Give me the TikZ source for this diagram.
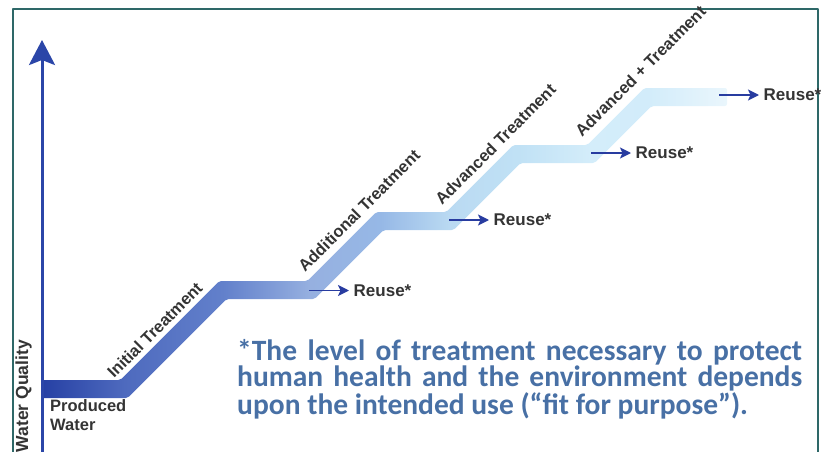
\documentclass[tikz,border=0pt]{standalone}
\usepackage{fontspec}
\setmainfont{Liberation Sans}
\newfontfamily\notefont{Carlito}
\usetikzlibrary{arrows.meta, positioning}
\usepackage{xcolor}
\definecolor{framegreen}{RGB}{46,104,104}
\definecolor{axisblue}{RGB}{43,70,168}
\definecolor{arrowblue}{RGB}{40,60,160}
\definecolor{labelgray}{RGB}{52,52,52}
\definecolor{noteblue}{RGB}{72,112,165}
\definecolor{stairA}{RGB}{38,64,164}
\definecolor{stairB}{RGB}{78,106,190}
\definecolor{stairC}{RGB}{98,128,203}
\definecolor{stairD}{RGB}{150,176,224}
\definecolor{stairE}{RGB}{150,184,230}
\definecolor{stairF}{RGB}{186,218,242}
\definecolor{stairG}{RGB}{192,225,245}
\definecolor{stairH}{RGB}{212,237,250}
\definecolor{stairI}{RGB}{210,236,250}
\definecolor{stairJ}{RGB}{234,246,252}
\pgfdeclarehorizontalshading{stairshade}{100bp}{color(0bp)=(stairA); color(25bp)=(stairA);
  color(31bp)=(stairB); color(38.2bp)=(stairC); color(44.6bp)=(stairD); color(49.7bp)=(stairE);
  color(54.8bp)=(stairF); color(59.7bp)=(stairG); color(65.1bp)=(stairH); color(69.2bp)=(stairI);
  color(75bp)=(stairJ); color(100bp)=(stairJ)}

\begin{document}
\begin{tikzpicture}[
                line join=round,
                steplabel/.style={rotate=45, anchor=base west, inner sep=0pt, text=labelgray, font=\fontsize{16.5}{19}\selectfont\bfseries},
                reusenode/.style={inner sep=4.5pt, text=labelgray, font=\fontsize{17}{20}\selectfont\bfseries},
                reusearrow/.style={arrowblue, line width=1.8pt, -{Stealth[length=11pt, width=11pt, inset=2.5pt]}},
                axisline/.style={axisblue, line width=3pt, -{Stealth[length=25pt, width=26pt, inset=5pt]}}
                ]
                \useasboundingbox (0pt,0pt) rectangle (827pt,451pt);

                %% Frame
                \draw[framegreen, line width=2pt] (13pt,-5pt) -- (13pt,442pt) -- (818pt,442pt) -- (818pt,-5pt);

                %% Staircase
                \shade[shading=stairshade, rounded corners=2pt] (42pt,71pt) -- (120.3pt,71pt) -- (219.3pt,170pt) -- (307.3pt,170pt)
                    -- (376.3pt,239pt) -- (446.3pt,239pt) -- (513.3pt,306pt) -- (587.3pt,306pt) -- (644.3pt,363pt) -- (727pt,363pt)
                    -- (727pt,345pt) -- (651.7pt,345pt) -- (594.7pt,288pt) -- (520.7pt,288pt) -- (453.7pt,221pt) -- (383.7pt,221pt)
                    -- (314.7pt,152pt) -- (226.7pt,152pt) -- (127.7pt,53pt) -- (42pt,53pt) -- cycle;

                %% Axis
                \coordinate (axisfoot) at (42pt,-5pt);
                \coordinate (axishead) at (42pt,411pt);
                \draw[axisline] (axisfoot) -- (axishead);
                \node[rotate=90, anchor=base east, inner sep=0pt, text=labelgray, font=\fontsize{17.5}{20}\selectfont\bfseries] (quality) at (28pt,111pt) {Water Quality};
                \node[anchor=north west, inner sep=0pt, align=left, text=labelgray, font=\fontsize{16.5}{19}\selectfont\bfseries] (produced) at (50pt,51.5pt) {Produced\\Water};

                % Treatment steps
                \node[steplabel] (initlbl) at (114pt,72pt) {Initial Treatment};
                \node[steplabel] (addlbl) at (305pt,178pt) {Additional Treatment};
                \node[steplabel] (advlbl) at (442pt,245pt) {Advanced Treatment};
                \node[steplabel] (advpluslbl) at (582pt,313pt) {Advanced + Treatment};

                % Reuse arrows
                \coordinate (r1) at (309pt,160.5pt);
                \coordinate (r2) at (449pt,231pt);
                \coordinate (r3) at (591pt,298pt);
                \coordinate (r4) at (719pt,356pt);
                \node[reusenode, right=40pt of r1] (reuse1) {Reuse*};
                \node[reusenode, right=40pt of r2] (reuse2) {Reuse*};
                \node[reusenode, right=40pt of r3] (reuse3) {Reuse*};
                \node[reusenode, right=40pt of r4] (reuse4) {Reuse*};
                \draw[reusearrow] (r1) -- (reuse1);
                \draw[reusearrow] (r2) -- (reuse2);
                \draw[reusearrow] (r3) -- (reuse3);
                \draw[reusearrow] (r4) -- (reuse4);

                %% Note
                \node[anchor=north west, inner sep=0pt, text width=565pt, align=justify, text=noteblue, font=\notefont\bfseries\fontsize{29.5}{24.5}\selectfont] (note) at (237pt,112pt)
                    {\noindent*The level of treatment necessary to protect\linebreak human health and the environment depends\linebreak upon the intended use (“fit for purpose”).};
\end{tikzpicture}
\end{document}
